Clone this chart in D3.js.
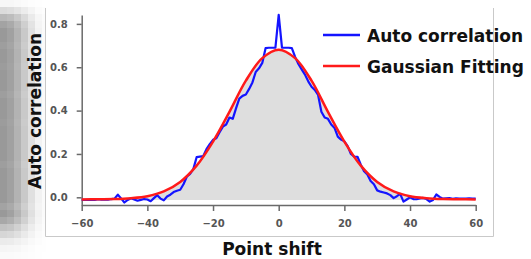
<!DOCTYPE html>
<html>
<head>
<meta charset="utf-8">
<script src="https://cdn.jsdelivr.net/npm/d3@7"></script>
<style>
  body { margin: 0; background: #fff; }
  svg { display: block; }
</style>
</head>
<body>
<div id="chart"></div>
<script>
// point shifts -60..60
let shifts = d3.range(-60, 61);

// auto correlation values, one per shift
let autoCorr = [
  -0.012, -0.012, -0.012, -0.011, -0.012, -0.009, -0.011, -0.010, -0.011, -0.008,
  -0.006, 0.012, -0.005, -0.024, -0.012, -0.004, -0.010, -0.016, -0.012, -0.008,
  -0.010, -0.018, -0.004, 0.010, -0.006, -0.014, 0.004, 0.012, 0.024, 0.030,
  0.035, 0.060, 0.095, 0.108, 0.130, 0.185, 0.188, 0.190, 0.222, 0.245,
  0.265, 0.272, 0.300, 0.326, 0.336, 0.368, 0.362, 0.410, 0.455, 0.468,
  0.474, 0.500, 0.530, 0.578, 0.595, 0.620, 0.688, 0.690, 0.690, 0.690,
  0.842,
  0.690, 0.690, 0.690, 0.688, 0.648, 0.615, 0.590, 0.566, 0.535, 0.510,
  0.495, 0.472, 0.395, 0.368, 0.362, 0.336, 0.320, 0.280, 0.266, 0.258,
  0.236, 0.200, 0.188, 0.187, 0.150, 0.120, 0.105, 0.075, 0.060, 0.032,
  0.026, 0.022, 0.018, 0.010, -0.004, 0.005, 0.016, -0.020, -0.010, 0.000,
  -0.008, -0.009, -0.005, -0.003, -0.008, -0.020, -0.012, 0.013, 0.002, -0.006,
  -0.005, -0.004, -0.007, -0.005, -0.006, -0.006, -0.006, -0.005, -0.006, -0.006
];

// gaussian fitting, read every 5 points
let fitShifts = d3.range(-60, 61, 5);
let fitValues = [
  -0.010, -0.009, -0.008, -0.004, 0.005, 0.027, 0.071, 0.146, 0.257, 0.394, 0.538, 0.642,
  0.681,
  0.642, 0.538, 0.394, 0.257, 0.146, 0.071, 0.027, 0.005, -0.004, -0.008, -0.009, -0.010
];

let xTicks = [-60, -40, -20, 0, 20, 40, 60];
let yTicks = [0.0, 0.2, 0.4, 0.6, 0.8];

let seriesNames = ["Auto correlation", "Gaussian Fitting"];
let seriesColors = ["#1414ff", "#ff1a1a"];

let svgWidth = 531;
let svgHeight = 259;
let font = "'DejaVu Sans', sans-serif";

let svg = d3.select("#chart")
  .append("svg")
  .attr("width", svgWidth)
  .attr("height", svgHeight);

// pixelated gray band on the left edge
let colShade = [0.40, 0.37, 0.30, 0.21, 0.12, 0.05, 0.02];
let rowShade = [0.08, 0.35, 0.7, 0.9, 1, 1, 0.95, 1, 1, 0.97, 1, 1, 1, 0.95,
  1, 1, 1, 0.97, 1, 1, 1, 1, 1, 0.95, 1, 1, 1, 1, 1, 0.9, 1, 0.85, 0.6, 0.4, 0.2, 0.1, 0.05];
let bg = svg.append("g");
rowShade.forEach(function(r, i) {
  colShade.forEach(function(c, j) {
    let g = Math.round(255 - 255 * c * r);
    bg.append("rect")
      .attr("x", j * 7)
      .attr("y", i * 7)
      .attr("width", j == 6 ? 3.5 : 7)
      .attr("height", 7)
      .attr("fill", d3.rgb(g, g, g));
  });
});

// frame around the plot
svg.append("path")
  .attr("d", "M45.5,8V236.5H493.5V8")
  .attr("stroke", "#c9c9c9")
  .attr("stroke-width", 1)
  .attr("fill", "none");

let x = d3.scaleLinear()
  .domain([-60, 60])
  .range([81.7, 475.7]);

let y = d3.scaleLinear()
  .domain([-0.0355, 0.841])
  .range([205, 15]);

// fill under the fit
let area = d3.area()
  .x((d, i) => x(fitShifts[i]))
  .y0(y(-0.013))
  .y1(d => y(d))
  .curve(d3.curveCatmullRom);

svg.append("path")
  .datum(fitValues)
  .attr("d", area)
  .attr("fill", "#dedede");

// axes
let xAxis = svg.append("g")
  .attr("transform", `translate(0, 205)`)
  .call(d3.axisBottom(x).tickValues(xTicks).tickSize(6).tickSizeOuter(0).tickPadding(9));

let yAxis = svg.append("g")
  .attr("transform", `translate(81.7, 0)`)
  .call(d3.axisLeft(y).tickValues(yTicks).tickFormat(d3.format(".1f")).tickSize(5).tickSizeOuter(0).tickPadding(9));

[xAxis, yAxis].forEach(function(a) {
  a.selectAll("path, line").attr("stroke", "#6a6a6a").attr("stroke-width", 1.5);
  a.selectAll("text")
    .attr("fill", "#555")
    .style("font-family", font)
    .style("font-size", "10px")
    .style("font-weight", "bold");
});

// lines
let autoLine = d3.line()
  .x((d, i) => x(shifts[i]))
  .y(d => y(d));

svg.append("path")
  .datum(autoCorr)
  .attr("d", autoLine)
  .attr("fill", "none")
  .attr("stroke", seriesColors[0])
  .attr("stroke-width", 2.2)
  .attr("stroke-linejoin", "round");

let fitLine = d3.line()
  .x((d, i) => x(fitShifts[i]))
  .y(d => y(d))
  .curve(d3.curveCatmullRom);

svg.append("path")
  .datum(fitValues)
  .attr("d", fitLine)
  .attr("fill", "none")
  .attr("stroke", seriesColors[1])
  .attr("stroke-width", 2.5);

// legend
let legend = svg.append("g");
seriesNames.forEach(function(name, i) {
  let ly = 35 + i * 31;
  legend.append("line")
    .attr("x1", 323).attr("x2", 360)
    .attr("y1", ly).attr("y2", ly)
    .attr("stroke", seriesColors[i])
    .attr("stroke-width", 2.5);
  legend.append("text")
    .attr("x", 367)
    .attr("y", ly + 6.5)
    .attr("fill", "#111")
    .style("font-family", font)
    .style("font-size", "17px")
    .style("font-weight", "bold")
    .text(name);
});

// axis titles
svg.append("text")
  .attr("transform", "rotate(-90)")
  .attr("x", -111)
  .attr("y", 41)
  .attr("text-anchor", "middle")
  .attr("fill", "#111")
  .style("font-family", font)
  .style("font-size", "17px")
  .style("font-weight", "bold")
  .text("Auto correlation");

svg.append("text")
  .attr("x", 272)
  .attr("y", 255)
  .attr("text-anchor", "middle")
  .attr("fill", "#111")
  .style("font-family", font)
  .style("font-size", "17px")
  .style("font-weight", "bold")
  .text("Point shift");
</script>
</body>
</html>
